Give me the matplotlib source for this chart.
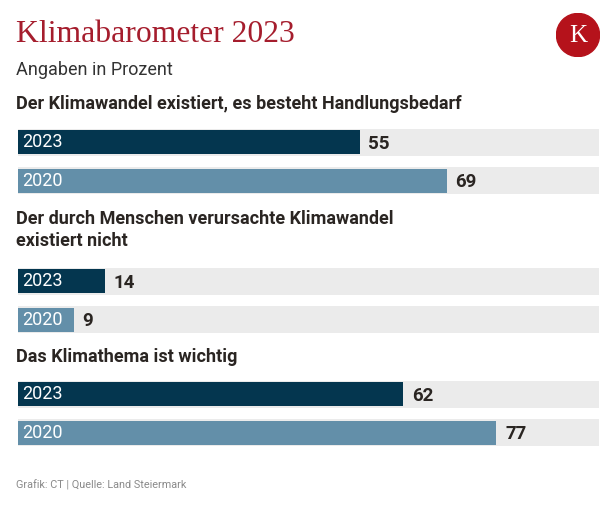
import matplotlib.pyplot as plt
from matplotlib.patches import Circle

# data
questions = [
    "Der Klimawandel existiert, es besteht Handlungsbedarf",
    "Der durch Menschen verursachte Klimawandel\nexistiert nicht",
    "Das Klimathema ist wichtig",
]
years = ["2023", "2020"]
values_2023 = [55, 14, 62]
values_2020 = [69, 9, 77]

W, H = 616, 509
dark = "#04364f"
light = "#638fa9"
track = "#ebebeb"
txt = "#2a2522"

plt.rcParams["font.family"] = ["Roboto", "DejaVu Sans"]

fig = plt.figure(figsize=(W / 100, H / 100), dpi=100)
fig.patch.set_facecolor("white")


def fx(px):
    return px / W


def fy(py):
    return 1 - py / H


# title, subtitle, logo
fig.text(fx(16), fy(35), "Klimabarometer 2023", family="Liberation Serif",
         fontsize=22.8, color="#a51d2d", va="center", ha="left")
fig.text(fx(16), fy(70), "Angaben in Prozent", fontsize=13, color="#333333",
         va="center", ha="left")

logo = fig.add_axes([fx(556), fy(57), 44 / W, 44 / H])
logo.set_xlim(-1, 1)
logo.set_ylim(-1, 1)
logo.set_aspect("equal")
logo.axis("off")
logo.add_patch(Circle((0, 0), 0.98, color="#b5121b"))
logo.text(0, -0.04, "K", family="Liberation Serif", fontsize=18, color="white",
          ha="center", va="center")

# section layout (pixels)
heading_y = [104, 230, 357]
group_top = [123, 262, 375]
xmax = 93.5
bar_left, bar_right = 18, 599

for i, q in enumerate(questions):
    fig.text(fx(16), fy(heading_y[i]), q, fontsize=13, fontweight="bold",
             color=txt, va="center", ha="left", linespacing=1.3)
    ax = fig.add_axes([fx(bar_left), fy(group_top[i] + 77),
                       (bar_right - bar_left) / W, 77 / H])
    vals = [values_2023[i], values_2020[i]]
    ax.barh([0, 1], [xmax, xmax], height=0.7, color=track, linewidth=0)
    ax.barh([0, 1], vals, height=0.63, color=[dark, light], linewidth=0)
    for j, v in enumerate(vals):
        ax.text(0.6, j, years[j], color="white", fontsize=13, fontweight="normal",
                va="center", ha="left")
        ax.text(v + 1.4, j + 0.04, str(v), color=txt, fontsize=13.5,
                fontweight="bold", va="center", ha="left")
    ax.set_xlim(0, xmax)
    ax.set_ylim(1.5, -0.5)
    ax.axis("off")

fig.text(fx(16), fy(485), "Grafik: CT | Quelle: Land Steiermark", fontsize=7.8,
         color="#8a8a8a", va="center", ha="left")

fig.savefig("out.png", dpi=100)
